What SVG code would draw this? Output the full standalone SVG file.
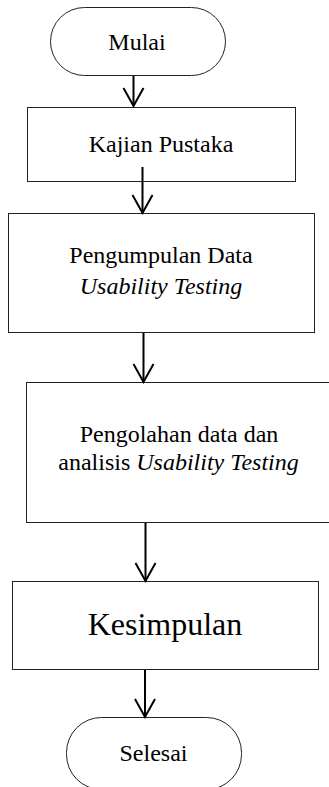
<svg xmlns="http://www.w3.org/2000/svg" width="329" height="787" viewBox="0 0 329 787">
  <defs>
    <!-- open V arrowhead, tip at the end of the line -->
    <marker id="vhead" markerUnits="userSpaceOnUse" markerWidth="30" markerHeight="30" refX="0" refY="0" orient="auto" overflow="visible">
      <path d="M-18,-10 L0,0 L-18,10" fill="none" stroke="#000" stroke-width="2" stroke-linejoin="miter"/>
    </marker>
    <style>
      .box { fill: #fff; stroke: #222; stroke-width: 1; }
      .lbl { font-family: 'Liberation Serif', 'Times New Roman', serif; font-size: 24px; fill: #000; text-anchor: middle; }
      .big { font-size: 32px; }
      .it { font-style: italic; }
      .flow { fill: none; stroke: #000; stroke-width: 2; marker-end: url(#vhead); }
    </style>
  </defs>
  <rect width="329" height="787" fill="#fff"/>

  <g id="n-mulai">
    <rect class="box" x="50.5" y="7.5" width="175" height="68" rx="34" ry="34"/>
    <text class="lbl" x="137" y="50">Mulai</text>
  </g>

  <g id="n-kajian">
    <rect class="box" x="27.5" y="107.5" width="268" height="74"/>
    <text class="lbl" x="161" y="152">Kajian Pustaka</text>
  </g>

  <g id="n-pengumpulan">
    <rect class="box" x="8.5" y="213.5" width="306" height="119"/>
    <text class="lbl" x="161" y="263">Pengumpulan Data</text>
    <text class="lbl it" x="161" y="294">Usability Testing</text>
  </g>

  <g id="n-pengolahan">
    <rect class="box" x="26.5" y="382.5" width="310" height="140"/>
    <text class="lbl" x="179" y="442">Pengolahan data dan</text>
    <text class="lbl" x="178.5" y="470">analisis <tspan class="it">Usability Testing</tspan></text>
  </g>

  <g id="n-kesimpulan">
    <rect class="box" x="12.5" y="581.5" width="306" height="88"/>
    <text class="lbl big" x="165" y="635">Kesimpulan</text>
  </g>

  <g id="n-selesai">
    <rect class="box" x="66.5" y="717.5" width="175" height="72" rx="35" ry="35"/>
    <text class="lbl" x="153.5" y="761">Selesai</text>
  </g>

  <g id="connectors">
    <path class="flow" d="M133.5,76 L133.5,106"/>
    <path class="flow" d="M142.5,167 L142.5,213"/>
    <path class="flow" d="M143.5,333 L143.5,382"/>
    <path class="flow" d="M145.5,523 L145.5,581"/>
    <path class="flow" d="M145,670 L145,717"/>
  </g>
</svg>
